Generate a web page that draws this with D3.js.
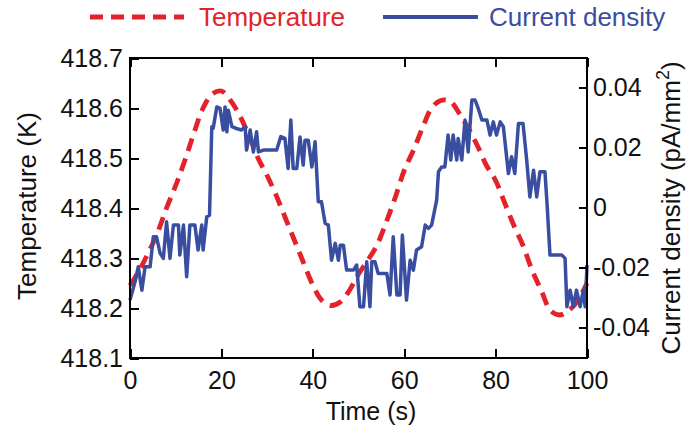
<!DOCTYPE html>
<html>
<head>
<meta charset="utf-8">
<title>Temperature and current density</title>
<style>
  body { margin: 0; background: #fff; }
  svg text { font-family: "Liberation Sans", Arial, sans-serif; fill: #111; }
  .axis path, .axis line { stroke: #000; stroke-width: 2px; shape-rendering: crispEdges; }
  .axis .tick text { font-size: 25px; }
</style>
</head>
<body>
<div id="chart"></div>
<script src="https://d3js.org/d3.v7.min.js"></script>
<script>
// temperature (K), left axis
var tempTime = [0, 2, 4, 6, 8, 10, 12, 14, 16, 18, 20, 22, 24, 26, 28, 30, 32, 34, 36, 38, 40,
  42, 44, 46, 48, 50, 52, 54, 56, 58, 60, 62, 64, 66, 68, 70, 72, 74, 76, 78, 80,
  82, 84, 86, 88, 90, 92, 94, 96, 98, 100];
var tempValue = [418.245, 418.275, 418.31, 418.35, 418.40, 418.445, 418.495, 418.55, 418.60, 418.628, 418.634,
  418.615, 418.585, 418.545, 418.50, 418.465, 418.425, 418.38, 418.335, 418.29, 418.246,
  418.215, 418.205, 418.212, 418.235, 418.268, 418.295, 418.325, 418.37, 418.42, 418.475,
  418.515, 418.56, 418.60, 418.615, 418.614, 418.59, 418.56, 418.525, 418.485, 418.455,
  418.41, 418.365, 418.325, 418.275, 418.235, 418.195, 418.186, 418.195, 418.215, 418.25];

// current density (pA/mm^2), right axis
var currTime = [0, 1.1, 1.8, 2.6, 3.3, 4.4, 5.1, 5.8, 6.6, 7.3, 8.0, 8.75, 9.5, 10.6, 10.9, 11.7,
  12.4, 13.1, 14.2, 14.9, 15.7, 16.0, 16.8, 17.4, 17.9, 18.2, 19.0, 19.7, 20.4, 20.8, 21.2, 21.5,
  22.3, 23.3, 24.4, 25.2, 25.5, 26.3, 27.0, 27.7, 28.1, 29.2, 31.4, 32.1, 33.0, 33.9, 34.6, 35.2,
  35.7, 36.5, 37.2, 37.9, 38.3, 39.0, 39.8, 40.5, 41.2, 41.9, 42.7, 43.4, 44.1, 44.9, 45.6, 46.0,
  46.7, 47.4, 48.9, 49.6, 50.3, 51.1, 51.8, 52.5, 52.9, 53.6, 54.3, 56.2, 56.9, 57.6, 58.4, 59.1,
  59.6, 60.5, 61.3, 62.0, 62.7, 63.8, 64.6, 65.3, 66.0, 67.1, 67.5, 68.2, 68.9, 69.6, 70.2, 70.7,
  71.5, 71.8, 72.6, 73.3, 74.0, 74.8, 75.5, 76.2, 77.0, 78.1, 78.8, 79.5, 80.2, 81.0, 81.7, 82.8,
  83.5, 84.2, 85.0, 86.0, 86.8, 87.5, 88.3, 89.0, 89.7, 90.8, 91.3, 91.9, 94.5, 95.2, 95.6, 96.3,
  97.0, 97.7, 98.5, 99.2, 99.6, 100];
var currValue = [-0.031, -0.0249, -0.0199, -0.0277, -0.0199, -0.0199, -0.0099, -0.0099, -0.0154, -0.0171,
  -0.0049, -0.0171, -0.006, -0.006, -0.016, -0.006, -0.0232, -0.006, -0.006, -0.0143, -0.006, -0.0143,
  -0.0032, -0.0027, 0.0268, 0.0263, 0.0334, 0.0329, 0.0257, 0.0334, 0.0251, 0.0323, 0.0268, 0.0262,
  0.0257, 0.0268, 0.019, 0.0257, 0.0184, 0.0251, 0.0184, 0.019, 0.019, 0.019, 0.0235, 0.0229, 0.0129,
  0.029, 0.0129, 0.0129, 0.0234, 0.014, 0.0223, 0.0223, 0.0134, 0.0218, 0.0018, 0.0018, -0.0054, -0.006,
  -0.0177, -0.0121, -0.0177, -0.0127, -0.0127, -0.021, -0.021, -0.0193, -0.0332, -0.0332, -0.0182,
  -0.0332, -0.0182, -0.0182, -0.0221, -0.0221, -0.0293, -0.0099, -0.0293, -0.0293, -0.0093, -0.031,
  -0.0177, -0.021, -0.0143, -0.0132, -0.006, -0.0071, -0.006, 0.0023, 0.0118, 0.0134, 0.0134, 0.024,
  0.0157, 0.024, 0.0157, 0.0229, 0.0157, 0.029, 0.0184, 0.0357, 0.0357, 0.0329, 0.029, 0.029, 0.024,
  0.0284, 0.024, 0.0284, 0.0268, 0.0112, 0.0168, 0.0112, 0.0279, 0.0279, 0.0157, 0.0034, 0.0123,
  0.0034, 0.0118, 0.0118, 0.0001, -0.016, -0.016, -0.0171, -0.0332, -0.0277, -0.0332, -0.0277, -0.0332,
  -0.0277, -0.0332, -0.0193];

// ticks
var timeTicks = [0, 20, 40, 60, 80, 100];
var tempTicks = [418.1, 418.2, 418.3, 418.4, 418.5, 418.6, 418.7];
var currTicks = [-0.04, -0.02, 0, 0.02, 0.04];
var currTickLabels = ["-0.04", "-0.02", "0", "0.02", "0.04"];

var red = "#e3222b", blue = "#3a4ea1";
var W = 687, H = 430;
var box = { left: 130, right: 587, top: 58, bottom: 358 };

var svg = d3.select("#chart").append("svg")
  .attr("width", W).attr("height", H);

var x = d3.scaleLinear().domain([0, 100]).range([box.left, box.right]);
var yT = d3.scaleLinear().domain([418.1, 418.7]).range([box.bottom, box.top]);
var yJ = d3.scaleLinear().domain([-0.0503, 0.0497]).range([box.bottom, box.top]);

// lines
var tempData = tempTime.map(function(t, i) { return [t, tempValue[i]]; });
var currData = currTime.map(function(t, i) { return [t, currValue[i]]; });

svg.append("path")
  .datum(tempData)
  .attr("fill", "none")
  .attr("stroke", red)
  .attr("stroke-width", 4.8)
  .attr("stroke-dasharray", "13,8")
  .attr("d", d3.line()
    .x(function(d) { return x(d[0]); })
    .y(function(d) { return yT(d[1]); })
    .curve(d3.curveCatmullRom));

svg.append("path")
  .datum(currData)
  .attr("fill", "none")
  .attr("stroke", blue)
  .attr("stroke-width", 3.5)
  .attr("stroke-linejoin", "round")
  .attr("d", d3.line()
    .x(function(d) { return x(d[0]); })
    .y(function(d) { return yJ(d[1]); }));

// axes (ticks pointing inward)
svg.append("g").attr("class", "axis")
  .attr("transform", "translate(0," + box.bottom + ")")
  .call(d3.axisBottom(x).tickValues(timeTicks).tickSizeInner(-9).tickSizeOuter(0).tickPadding(8)
    .tickFormat(d3.format("d")))
  .selectAll(".tick text").attr("dy", "0.92em");

svg.append("g").attr("class", "axis")
  .attr("transform", "translate(0," + box.top + ")")
  .call(d3.axisTop(x).tickValues(timeTicks).tickSizeInner(-9).tickSizeOuter(0).tickFormat(""));

svg.append("g").attr("class", "axis")
  .attr("transform", "translate(" + box.left + ",0)")
  .call(d3.axisLeft(yT).tickValues(tempTicks).tickSizeInner(-9).tickSizeOuter(0).tickPadding(7)
    .tickFormat(d3.format(".1f")));

svg.append("g").attr("class", "axis")
  .attr("transform", "translate(" + box.right + ",0)")
  .call(d3.axisRight(yJ).tickValues(currTicks).tickSizeInner(-8).tickSizeOuter(0).tickPadding(6)
    .tickFormat(function(d, i) { return currTickLabels[i]; }));

svg.selectAll(".axis .domain").remove();
svg.append("rect")
  .attr("x", box.left).attr("y", box.top)
  .attr("width", box.right - box.left).attr("height", box.bottom - box.top)
  .attr("fill", "none").attr("stroke", "#000").attr("stroke-width", 2)
  .attr("shape-rendering", "crispEdges");

// axis titles
svg.append("text")
  .attr("x", 371).attr("y", 420)
  .attr("text-anchor", "middle")
  .style("font-size", "25px")
  .text("Time (s)");

svg.append("text")
  .attr("transform", "translate(36,206) rotate(-90)")
  .attr("text-anchor", "middle")
  .style("font-size", "26px")
  .text("Temperature (K)");

var rt = svg.append("text")
  .attr("transform", "translate(680,208) rotate(-90)")
  .attr("text-anchor", "middle")
  .style("font-size", "26px");
rt.append("tspan").text("Current density (pA/mm");
rt.append("tspan").attr("dy", -11).style("font-size", "18px").text("2");
rt.append("tspan").attr("dy", 11).text(")");

// legend
var legend = svg.append("g");
legend.append("line")
  .attr("x1", 90).attr("x2", 184).attr("y1", 17).attr("y2", 17)
  .attr("stroke", red).attr("stroke-width", 4.8).attr("stroke-dasharray", "13,8");
legend.append("text")
  .attr("x", 199).attr("y", 26)
  .style("font-size", "26px").style("fill", red)
  .text("Temperature");
legend.append("line")
  .attr("x1", 383).attr("x2", 478).attr("y1", 17).attr("y2", 17)
  .attr("stroke", blue).attr("stroke-width", 4);
legend.append("text")
  .attr("x", 489).attr("y", 26)
  .style("font-size", "26px").style("fill", blue)
  .text("Current density");
</script>
</body>
</html>
